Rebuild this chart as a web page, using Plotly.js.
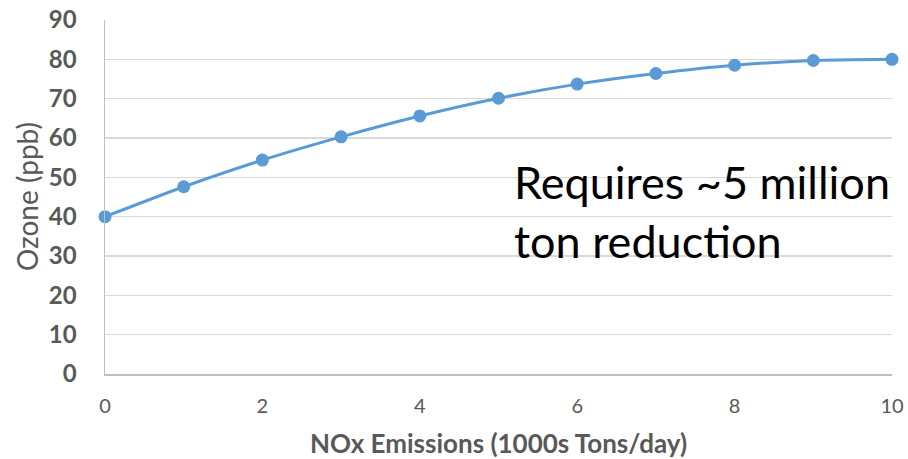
<!DOCTYPE html>
<html>
<head>
<meta charset="utf-8">
<script src="https://cdn.plot.ly/plotly-3.0.1.min.js"></script>
<style>html,body{margin:0;padding:0;background:#fff;}#chart{width:908px;height:459px;}</style>
</head>
<body>
<div id="chart"></div>
<script>
const emissions = [0, 1, 2, 3, 4, 5, 6, 7, 8, 9, 10];
const ozone = [40, 47.6, 54.4, 60.3, 65.6, 70.1, 73.7, 76.4, 78.5, 79.7, 80];
const xTicks = [0, 2, 4, 6, 8, 10];
const yTicks = [0, 10, 20, 30, 40, 50, 60, 70, 80, 90];
const noteText = "Requires ~5 million<br>ton reduction";
const xTitle = "NOx Emissions (1000s Tons/day)";
const yTitle = "Ozone (ppb)";

const FONT = "Lato, 'Open Sans', sans-serif";
const trace = {
  x: emissions, y: ozone, type: 'scatter', mode: 'lines+markers',
  line: {color: '#5B9BD5', width: 3, shape: 'spline', smoothing: 0.5},
  marker: {color: '#5B9BD5', size: 13},
  hoverinfo: 'skip', showlegend: false, cliponaxis: false
};
const layout = {
  width: 908, height: 459,
  margin: {l: 105, r: 16, t: 20, b: 85},
  paper_bgcolor: '#fff', plot_bgcolor: '#fff',
  font: {family: FONT, color: '#595959'},
  xaxis: {
    range: [0, 10], tickvals: xTicks, ticktext: xTicks.map(String),
    showgrid: false, zeroline: false, showline: true, linecolor: '#BFBFBF', linewidth: 1.5,
    ticks: '', tickfont: {size: 20, color: '#595959', family: FONT},
    ticklabelstandoff: 13
  },
  yaxis: {
    range: [0, 90], tickvals: yTicks, ticktext: yTicks.map(v => '<b>' + v + '</b>'),
    showgrid: true, gridcolor: '#D9D9D9', gridwidth: 1.5, zeroline: false,
    showline: true, linecolor: '#BFBFBF', linewidth: 1.5,
    ticks: '', tickfont: {size: 24, color: '#595959', family: FONT},
    ticklabelstandoff: 22
  },
  annotations: [
    {
      x: 5.17, y: 41.3, xref: 'x', yref: 'y', xanchor: 'left', yanchor: 'middle',
      text: noteText, showarrow: false, align: 'left',
      font: {size: 45, color: '#000', family: FONT}
    },
    {
      x: 0.5, y: 0, xref: 'paper', yref: 'paper', xanchor: 'center', yanchor: 'middle',
      yshift: -69, text: '<b>' + xTitle + '</b>', showarrow: false,
      font: {size: 26, color: '#595959', family: FONT}
    },
    {
      x: 0, y: 0.5, xref: 'paper', yref: 'paper', xanchor: 'center', yanchor: 'middle',
      xshift: -78, yshift: 0, textangle: -90, text: yTitle, showarrow: false,
      font: {size: 28, color: '#595959', family: FONT}
    }
  ]
};
Plotly.newPlot('chart', [trace], layout, {staticPlot: true, displayModeBar: false});
</script>
</body>
</html>
